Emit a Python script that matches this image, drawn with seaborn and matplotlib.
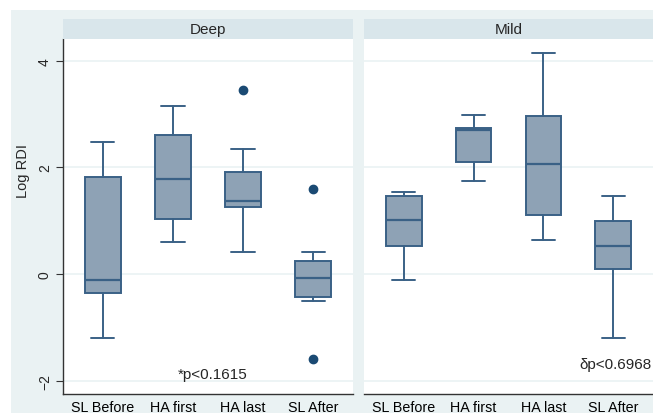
import matplotlib
matplotlib.use("Agg")
import matplotlib.pyplot as plt
from matplotlib.patches import Rectangle
import seaborn as sns

# values (Log RDI)
categories = ["SL Before", "HA first", "HA last", "SL After"]

deep_whislo = [-1.20, 0.60, 0.41, -0.51]
deep_q1 = [-0.36, 1.03, 1.26, -0.43]
deep_med = [-0.11, 1.78, 1.37, -0.08]
deep_q3 = [1.82, 2.61, 1.91, 0.24]
deep_whishi = [2.48, 3.15, 2.34, 0.41]
deep_fliers = [[], [], [3.45], [1.60, -1.60]]

mild_whislo = [-0.11, 1.74, 0.64, -1.20]
mild_q1 = [0.53, 2.10, 1.11, 0.09]
mild_med = [1.01, 2.70, 2.06, 0.53]
mild_q3 = [1.46, 2.74, 2.96, 0.99]
mild_whishi = [1.54, 2.98, 4.15, 1.46]
mild_fliers = [[], [], [], []]

panels = ["Deep", "Mild"]
notes = ["*p<0.1615", "\u03b4p<0.6968"]

sns.set_theme(style="white")
plt.rcParams["font.family"] = ["Liberation Sans", "DejaVu Sans"]

OUTER = "#eaf2f3"
STRIP = "#d9e6eb"
GRID = "#eaf2f3"
FILL = "#8ea2b5"
EDGE = "#3a6186"
DOT = "#1a4a73"


def make_stats(lo, q1, med, q3, hi, fl):
    out = []
    for i in range(len(lo)):
        out.append(dict(whislo=lo[i], q1=q1[i], med=med[i], q3=q3[i],
                        whishi=hi[i], fliers=fl[i]))
    return out


stats = [
    make_stats(deep_whislo, deep_q1, deep_med, deep_q3, deep_whishi, deep_fliers),
    make_stats(mild_whislo, mild_q1, mild_med, mild_q3, mild_whishi, mild_fliers),
]

W, H = 653, 414
fig = plt.figure(figsize=(W / 100, H / 100), dpi=100)
fig.patch.set_facecolor("white")
fig.add_artist(Rectangle((11 / W, 0), 1, (H - 11) / H, transform=fig.transFigure,
                         facecolor=OUTER, edgecolor="none", zorder=-10))

lefts = [63, 364]
widths = [290, 289]
top, bottom = 40, 395

for k in range(2):
    ax = fig.add_axes([lefts[k] / W, (H - bottom) / H, widths[k] / W, (bottom - top) / H])
    ax.set_facecolor("white")
    ax.bxp(stats[k], positions=[1, 2, 3, 4], widths=0.51, capwidths=0.33,
           patch_artist=True, manage_ticks=False,
           boxprops=dict(facecolor=FILL, edgecolor=EDGE, linewidth=1.4),
           medianprops=dict(color=EDGE, linewidth=1.6),
           whiskerprops=dict(color=EDGE, linewidth=1.4),
           capprops=dict(color=EDGE, linewidth=1.4),
           flierprops=dict(marker="o", markersize=6, markerfacecolor=DOT,
                           markeredgecolor=DOT))
    ax.set_xlim(0.43, 4.57)
    ax.set_ylim(-2.25, 4.41)
    ax.set_yticks([-2, 0, 2, 4])
    ax.yaxis.grid(True, color=GRID, linewidth=1.2)
    ax.set_axisbelow(True)
    ax.set_xticks([1, 2, 3, 4])
    ax.set_xticklabels(categories, fontsize=10.3, color="black")
    ax.tick_params(axis="x", length=0, pad=4)
    sns.despine(ax=ax, top=True, right=True, left=(k == 1))
    ax.spines["bottom"].set_color("#333333")
    ax.spines["bottom"].set_linewidth(1.0)
    if k == 0:
        ax.spines["left"].set_color("#333333")
        ax.spines["left"].set_linewidth(1.0)
        ax.tick_params(axis="y", left=True, length=5, width=0.8, color="#333333",
                       labelsize=10, pad=3)
        for t in ax.get_yticklabels():
            t.set_rotation(90)
            t.set_va("center")
        ax.set_ylabel("Log RDI", fontsize=10.5)
        ax.yaxis.set_label_coords(-0.115, 0.63)
    else:
        ax.set_yticklabels([])
        ax.tick_params(axis="y", left=False)
    # strip header
    sax = fig.add_axes([lefts[k] / W, (H - top) / H, widths[k] / W, 20 / H])
    sax.set_facecolor(STRIP)
    sax.set_xticks([])
    sax.set_yticks([])
    for s in sax.spines.values():
        s.set_visible(False)
    sax.text(0.5, 0.5, panels[k], ha="center", va="center", fontsize=11,
             transform=sax.transAxes)
    if k == 0:
        ax.text(2.57, -1.87, notes[k], ha="center", va="center", fontsize=11)
    else:
        ax.text(0.995, 0.085, notes[k], ha="right", va="center", fontsize=11,
                transform=ax.transAxes)

fig.savefig("out.png", dpi=100, facecolor="white")
